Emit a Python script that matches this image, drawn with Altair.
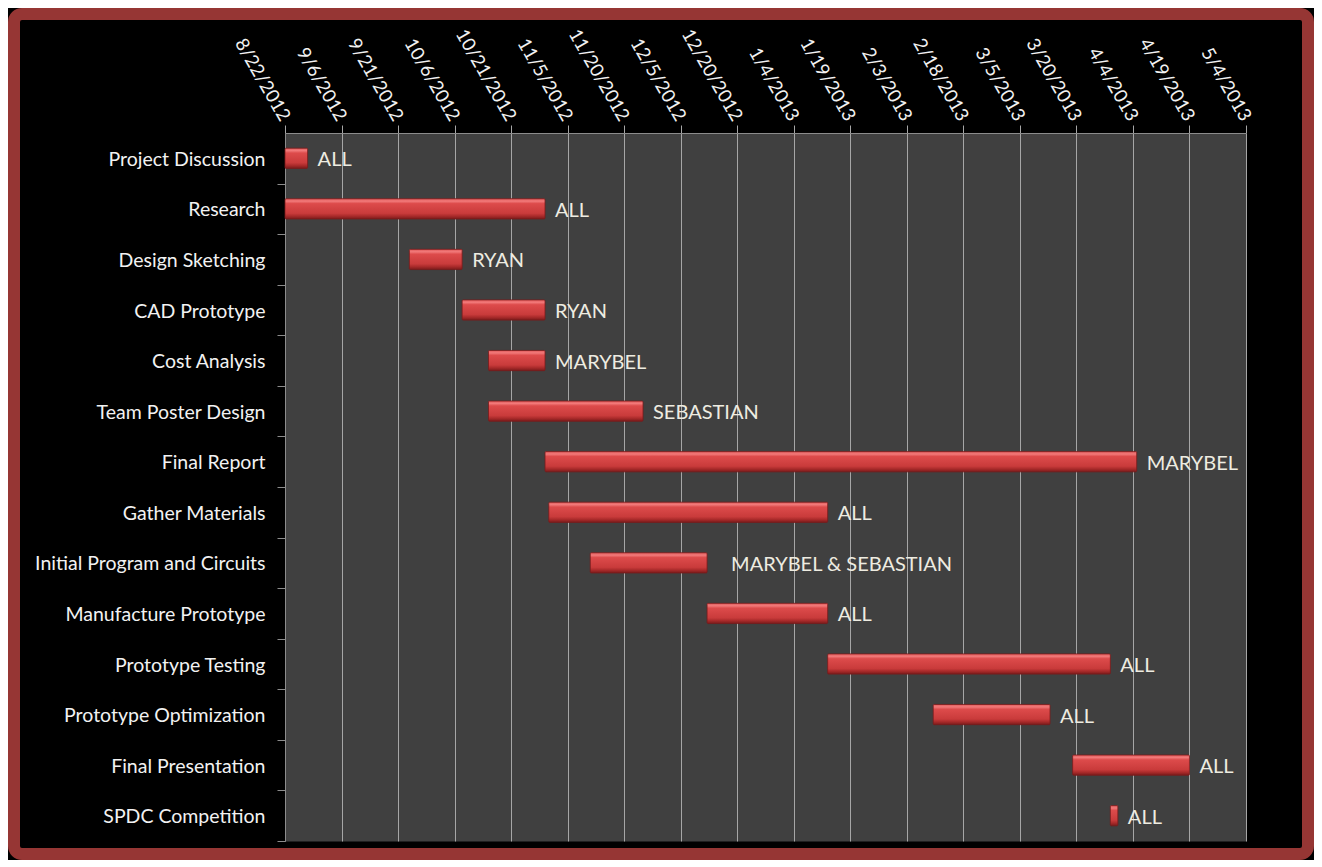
import altair as alt
import pandas as pd

# ---- data ----
tasks = ["Project Discussion", "Research", "Design Sketching", "CAD Prototype",
         "Cost Analysis", "Team Poster Design", "Final Report", "Gather Materials",
         "Initial Program and Circuits", "Manufacture Prototype", "Prototype Testing",
         "Prototype Optimization", "Final Presentation", "SPDC Competition"]
starts = ["2012-08-22", "2012-08-22", "2012-09-24", "2012-10-08", "2012-10-15",
          "2012-10-15", "2012-10-30", "2012-10-31", "2012-11-11", "2012-12-12",
          "2013-01-13", "2013-02-10", "2013-03-19", "2013-03-29"]
ends = ["2012-08-28", "2012-10-30", "2012-10-08", "2012-10-30", "2012-10-30",
        "2012-11-25", "2013-04-05", "2013-01-13", "2012-12-12", "2013-01-13",
        "2013-03-29", "2013-03-13", "2013-04-19", "2013-03-31"]
owners = ["ALL", "ALL", "RYAN", "RYAN", "MARYBEL", "SEBASTIAN", "MARYBEL", "ALL",
          "MARYBEL & SEBASTIAN", "ALL", "ALL", "ALL", "ALL", "ALL"]
tick_labels = ["8/22/2012", "9/6/2012", "9/21/2012", "10/6/2012", "10/21/2012",
               "11/5/2012", "11/20/2012", "12/5/2012", "12/20/2012", "1/4/2013",
               "1/19/2013", "2/3/2013", "2/18/2013", "3/5/2013", "3/20/2013",
               "4/4/2013", "4/19/2013", "5/4/2013"]

df = pd.DataFrame({"task": tasks, "start": starts, "end": ends, "owner": owners})


def to_dt(s):
    m, d, y = (int(v) for v in s.split("/"))
    return alt.DateTime(year=y, month=m, date=d, utc=True)


tick_values = [to_dt(s) for s in tick_labels]

W, H = 961, 708
PAD = {"left": 277, "top": 125, "right": 68, "bottom": 19}
STEP = H / len(tasks)

x_scale = alt.Scale(type="utc", domain=[tick_values[0], tick_values[-1]], nice=False)
y_scale = alt.Scale(domain=tasks, paddingInner=0.6, paddingOuter=0.3)

x_axis = alt.Axis(orient="top", values=tick_values, format="%-m/%-d/%Y",
                  labelAngle=60, labelAlign="right", labelBaseline="middle",
                  labelPadding=6, tickSize=8, tickColor="#A6A6A6",
                  gridColor="#A6A6A6", gridWidth=1, domainColor="#8C8C8C",
                  labelFont="Lato", labelFontSize=18.5, labelColor="#F2F2F2",
                  labelOverlap=False, labelBound=False, labelFlush=False, title=None)
y_axis = alt.Axis(title=None, labelColor="#F2F2F2", labelFont="Lato",
                  labelFontSize=19.5, tickColor="#8C8C8C", tickSize=8,
                  domainColor="#8C8C8C", labelPadding=12,
                  tickOffset=STEP / 2, labelOffset=-STEP / 2 + 1,
                  grid=False, labelLimit=400)

grad = alt.LinearGradient(
    gradient="linear", x1=0, x2=0, y1=0, y2=1,
    stops=[alt.GradientStop(offset=0, color="#E05A5A"),
           alt.GradientStop(offset=0.12, color="#F27A7A"),
           alt.GradientStop(offset=0.24, color="#DD4B4B"),
           alt.GradientStop(offset=0.72, color="#C93B3B"),
           alt.GradientStop(offset=0.86, color="#A82A2A"),
           alt.GradientStop(offset=1, color="#7A1B1B")])

base = alt.Chart(df)

bars = base.mark_bar(color=grad, stroke="#7A1B1B", strokeWidth=0.8,
                     cornerRadius=1).encode(
    x=alt.X("start:T", scale=x_scale, axis=x_axis),
    x2="end:T",
    y=alt.Y("task:N", scale=y_scale, axis=y_axis, sort=tasks),
)

text_style = dict(align="left", baseline="middle", font="Lato", fontSize=20,
                  color="#EEECE1", dy=2)

labels = base.transform_filter(
    alt.datum.owner != "MARYBEL & SEBASTIAN"
).mark_text(dx=10, **text_style).encode(
    x=alt.X("end:T", scale=x_scale),
    y=alt.Y("task:N", scale=y_scale, sort=tasks),
    text="owner:N",
)

labels_wide = base.transform_filter(
    alt.datum.owner == "MARYBEL & SEBASTIAN"
).mark_text(dx=24, **text_style).encode(
    x=alt.X("end:T", scale=x_scale),
    y=alt.Y("task:N", scale=y_scale, sort=tasks),
    text="owner:N",
)

frame = alt.Chart(pd.DataFrame({"k": [0]})).mark_rect(
    fill="transparent", stroke="#963634", strokeWidth=12, cornerRadius=8
).encode(
    x=alt.value(6 - PAD["left"]),
    x2=alt.value(W + PAD["right"] - 6),
    y=alt.value(6 - PAD["top"]),
    y2=alt.value(H + PAD["bottom"] - 6),
)

chart = alt.layer(bars, labels, labels_wide, frame).properties(
    width=W, height=H, padding=PAD,
    autosize=alt.AutoSizeParams(type="none"),
    background="#000000",
).configure_view(fill="#404040", stroke="transparent")

chart.save("out.html", embed_options={"renderer": "svg", "actions": False})
